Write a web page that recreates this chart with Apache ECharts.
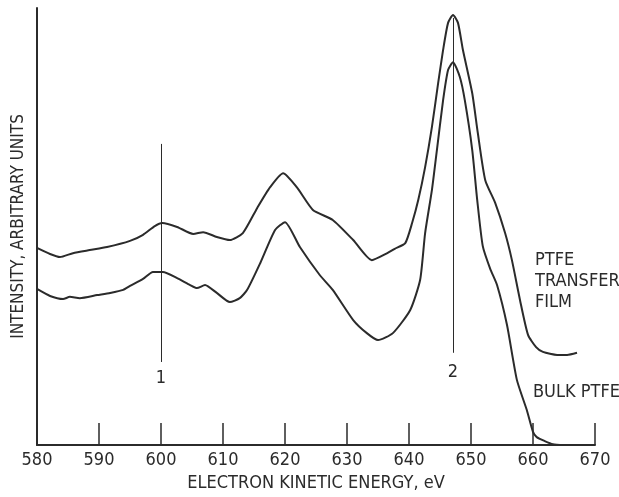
<!DOCTYPE html>
<html>
<head>
<meta charset="utf-8">
<script src="https://cdn.jsdelivr.net/npm/echarts@6/dist/echarts.min.js"></script>
<style>
  html, body { margin: 0; padding: 0; background: #fff; }
  #chart { width: 619px; height: 497px; }
</style>
</head>
<body>
<div id="chart"></div>
<script>
// energies in eV, intensity in arbitrary units (0..100 = axis height)
var filmEnergy = [580.0, 582.1, 583.7, 585.8, 588.5, 591.3, 595.0, 597.1, 599.0, 600.2,
                  602.6, 605.2, 606.8, 609.0, 611.1, 613.2, 615.5, 617.6, 619.7, 621.9,
                  624.5, 627.7, 631.0, 634.0, 636.5, 637.7, 639.4, 640.5, 641.5, 642.6,
                  643.7, 644.7, 645.5, 646.3, 647.1, 647.9, 648.7, 650.2, 651.1, 652.3,
                  653.9, 655.5, 656.6, 657.9, 659.2, 660.5, 661.6, 663.9, 665.5, 667.1];
var filmIntensity = [45.1, 43.7, 43.0, 43.9, 44.6, 45.3, 46.7, 48.1, 50.1, 50.8,
                     49.9, 48.3, 48.7, 47.6, 46.9, 48.5, 54.2, 59.0, 62.2, 59.0,
                     53.8, 51.5, 46.9, 42.3, 43.9, 44.9, 46.2, 50.8, 56.1, 63.6,
                     72.8, 82.8, 90.4, 96.6, 98.4, 96.6, 90.4, 80.5, 71.4, 60.6,
                     55.4, 48.5, 42.3, 33.2, 25.2, 22.4, 21.3, 20.6, 20.6, 21.1];

var bulkEnergy = [580.0, 582.1, 584.2, 585.3, 586.9, 589.7, 591.8, 593.9, 595.0, 597.1,
                  598.7, 600.3, 602.6, 604.7, 605.8, 607.1, 609.0, 611.1, 612.7, 613.9,
                  616.0, 618.4, 620.0, 622.4, 625.6, 627.7, 631.0, 633.2, 635.0, 637.4,
                  640.2, 641.8, 642.6, 643.7, 644.5, 645.5, 646.3, 647.1, 648.2, 649.0,
                  650.2, 651.0, 651.9, 653.1, 654.2, 655.8, 657.4, 659.0, 660.0, 660.6,
                  661.9, 663.2, 665.0];
var bulkIntensity = [35.7, 34.1, 33.4, 33.9, 33.6, 34.3, 34.8, 35.5, 36.4, 38.0,
                     39.6, 39.6, 38.2, 36.6, 35.9, 36.6, 34.8, 32.7, 33.6, 35.5,
                     41.6, 49.2, 51.0, 45.3, 38.9, 35.5, 28.6, 25.6, 24.0, 25.6,
                     30.9, 37.8, 48.5, 58.4, 67.5, 78.9, 85.8, 87.6, 84.2, 78.9,
                     67.5, 56.1, 45.5, 40.3, 36.6, 27.5, 14.9, 8.0, 3.0, 1.8,
                     0.9, 0.2, 0.0];

// peak markers: energy, top and bottom of the line, label
var markerEnergy = [600, 647.1];
var markerTop = [68.9, 97.7];
var markerBottom = [19.0, 21.1];
var markerLabel = ['1', '2'];

var xTicks = [580, 590, 600, 610, 620, 630, 640, 650, 660, 670];

var FONT = '"Liberation Sans Narrow", "DejaVu Sans Condensed", sans-serif';
var INK = '#2b2b2b';
var labelGap = [7, 11];

function pairs(xs, ys) {
    return xs.map(function (x, i) { return [x, ys[i]]; });
}

var chart = echarts.init(document.getElementById('chart'));

chart.setOption({
    animation: false,
    backgroundColor: '#fff',
    grid: { left: 37, right: 24, top: 8, bottom: 52 },
    xAxis: {
        type: 'value',
        min: xTicks[0],
        max: xTicks[xTicks.length - 1],
        interval: 10,
        name: 'ELECTRON KINETIC ENERGY, eV',
        nameLocation: 'middle',
        nameGap: 27,
        nameTextStyle: { fontFamily: FONT, fontSize: 18, color: INK },
        axisLine: { lineStyle: { color: INK, width: 2 } },
        axisTick: { inside: true, length: 22, lineStyle: { color: INK, width: 1.5 } },
        axisLabel: { fontFamily: FONT, fontSize: 18, color: INK, margin: 6 },
        splitLine: { show: false }
    },
    yAxis: {
        type: 'value',
        min: 0,
        max: 100,
        name: 'INTENSITY, ARBITRARY UNITS',
        nameLocation: 'middle',
        nameGap: 10,
        nameTextStyle: { fontFamily: FONT, fontSize: 17, color: INK },
        axisLine: { show: true, lineStyle: { color: INK, width: 2 } },
        axisTick: { show: false },
        axisLabel: { show: false },
        splitLine: { show: false }
    },
    series: [
        {
            name: 'PTFE TRANSFER FILM',
            type: 'line',
            data: pairs(filmEnergy, filmIntensity),
            showSymbol: false,
            smooth: 0.2,
            lineStyle: { color: INK, width: 2 },
            markLine: {
                silent: true,
                symbol: 'none',
                lineStyle: { color: INK, width: 1, type: 'solid' },
                label: {
                    show: true,
                    position: 'end',
                    fontFamily: FONT,
                    fontSize: 18,
                    color: INK,
                    formatter: function (p) { return p.name; }
                },
                data: markerEnergy.map(function (e, i) {
                    return [
                        { name: markerLabel[i], coord: [e, markerTop[i]],
                          label: { distance: labelGap[i] } },
                        { coord: [e, markerBottom[i]] }
                    ];
                })
            }
        },
        {
            name: 'BULK PTFE',
            type: 'line',
            data: pairs(bulkEnergy, bulkIntensity),
            showSymbol: false,
            smooth: 0.2,
            lineStyle: { color: INK, width: 2 }
        }
    ],
    graphic: [
        {
            type: 'text',
            left: 535,
            top: 250,
            style: {
                text: 'PTFE\nTRANSFER\nFILM',
                font: '18px ' + FONT,
                fill: INK,
                lineHeight: 21
            }
        },
        {
            type: 'text',
            left: 533,
            top: 383,
            style: {
                text: 'BULK PTFE',
                font: '18px ' + FONT,
                fill: INK
            }
        }
    ]
});
</script>
</body>
</html>
